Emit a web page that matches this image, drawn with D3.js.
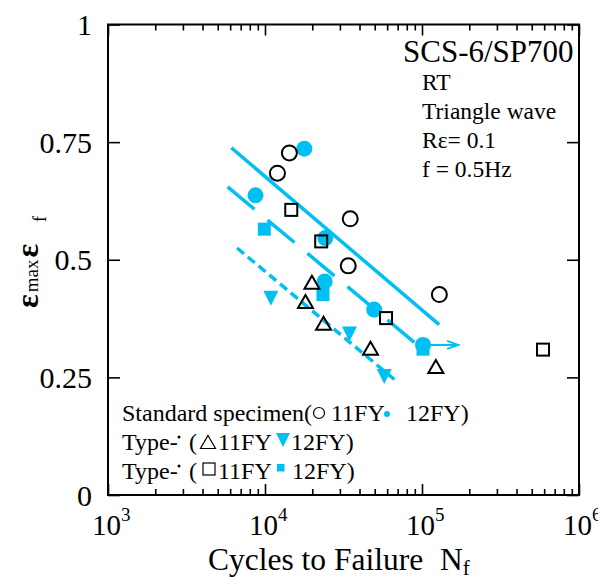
<!DOCTYPE html>
<html>
<head>
<meta charset="utf-8">
<script src="https://cdn.jsdelivr.net/npm/d3@7"></script>
<style>
  body { margin: 0; background: #fff; }
  text { font-family: "Liberation Serif", "Times New Roman", serif; fill: #000; }
</style>
</head>
<body>
<svg id="chart" width="598" height="578"></svg>
<script>
// data: [cycles to failure, strain ratio]
var stdOpen   = [[14300, 0.727], [12000, 0.684], [34900, 0.587], [33900, 0.487], [129000, 0.426]];
var stdFilled = [[17800, 0.736], [8700, 0.637], [24200, 0.546], [24000, 0.454], [49600, 0.394], [101500, 0.319]];
var sqOpen    = [[14700, 0.606], [22800, 0.539], [59000, 0.376], [590000, 0.309]];
var sqFilled  = [[9900, 0.565], [23400, 0.426], [101500, 0.310]];
var triOpen   = [[19900, 0.452], [18100, 0.411], [23600, 0.365], [47000, 0.312], [122500, 0.273]];
var triFilled = [[10900, 0.418], [34500, 0.342], [57500, 0.252]];

// fitted lines
var lineStd = [[6100, 0.738], [128600, 0.362]];
var lineSq  = [[5780, 0.655], [101500, 0.309]];
var lineTri = [[6640, 0.525], [69200, 0.241]];
var runout  = [[101500, 0.319], [170000, 0.319]];

var xDecades = [3, 4, 5, 6];
var yTicks = [0, 0.25, 0.5, 0.75, 1];
var yTickLabels = ['0', '0.25', '0.5', '0.75', '1'];

var cyan = '#00bff3';

var svg = d3.select('#chart');
var pLeft = 108, pRight = 579, pTop = 24.5, pBottom = 495;

var x = d3.scaleLog().domain([1e3, 1e6]).range([pLeft, pRight]);
var y = d3.scaleLinear().domain([0, 1]).range([pBottom, pTop]);

var majorX = xDecades.map(function(d) { return Math.pow(10, d); });
var minorX = x.ticks().filter(function(v) { return majorX.indexOf(v) < 0; });

// ticks, all pointing inward
function tickLayer(axis, tx, ty) {
  var g = svg.append('g').attr('transform', 'translate(' + tx + ',' + ty + ')').call(axis);
  g.select('.domain').remove();
  g.selectAll('.tick line').attr('stroke', '#000').attr('stroke-width', 1.6);
  g.selectAll('.tick text').remove();
  return g;
}
tickLayer(d3.axisBottom(x).tickValues(majorX).tickSize(-11).tickFormat(''), 0, pBottom);
tickLayer(d3.axisBottom(x).tickValues(minorX).tickSize(-6).tickFormat(''), 0, pBottom);
tickLayer(d3.axisTop(x).tickValues(majorX).tickSize(-11).tickFormat(''), 0, pTop);
tickLayer(d3.axisTop(x).tickValues(minorX).tickSize(-6).tickFormat(''), 0, pTop);
tickLayer(d3.axisLeft(y).tickValues(yTicks).tickSize(-12).tickFormat(''), pLeft, 0);
tickLayer(d3.axisRight(y).tickValues(yTicks).tickSize(-12).tickFormat(''), pRight, 0);

svg.append('rect')
  .attr('x', pLeft).attr('y', pTop)
  .attr('width', pRight - pLeft).attr('height', pBottom - pTop)
  .attr('fill', 'none').attr('stroke', '#000').attr('stroke-width', 2);

// tick labels
var xl = svg.append('g').selectAll('text').data(majorX).enter().append('text')
  .attr('x', function(d) { return x(d) - 16; })
  .attr('y', 535)
  .style('font-size', '29px');
xl.append('tspan').text('10');
xl.append('tspan').attr('dy', -14).style('font-size', '19px')
  .text(function(d) { return Math.round(Math.log10(d)); });

svg.append('g').selectAll('text').data(yTicks).enter().append('text')
  .attr('x', 92)
  .attr('y', function(d) { return y(d); })
  .attr('dy', '0.35em')
  .attr('text-anchor', 'end')
  .style('font-size', '30px')
  .text(function(d, i) { return yTickLabels[i]; });

// axis titles
var xt = svg.append('text').attr('x', 208).attr('y', 570).style('font-size', '31.5px');
xt.append('tspan').text('Cycles to Failure');
xt.append('tspan').attr('x', 440).text('N');
xt.append('tspan').attr('dy', 5).style('font-size', '21px').text('f');

var yt = svg.append('text').attr('transform', 'translate(38,308) rotate(-90)');
yt.append('tspan').style('font-size', '32px').style('font-weight', 'bold').text('ε');
yt.append('tspan').style('font-size', '19px').attr('dx', 2).text('max');
yt.append('tspan').style('font-size', '32px').style('font-weight', 'bold').attr('dx', 2).text('ε');
yt.append('tspan').style('font-size', '18px').attr('dx', 22).attr('dy', 8).text('f');

// condition notes
svg.append('text').attr('x', 403).attr('y', 62).style('font-size', '31px').text('SCS-6/SP700');
var notes = ['RT', 'Triangle wave', 'Rε= 0.1', 'f = 0.5Hz'];
svg.append('g').selectAll('text').data(notes).enter().append('text')
  .attr('x', 422)
  .attr('y', function(d, i) { return 90 + i * 28.9; })
  .style('font-size', '23.5px')
  .text(function(d) { return d; });

// fitted lines
var line = d3.line().x(function(d) { return x(d[0]); }).y(function(d) { return y(d[1]); });
svg.append('path').datum(lineStd).attr('d', line)
  .attr('stroke', cyan).attr('stroke-width', 3.5).attr('fill', 'none');
svg.append('path').datum(lineSq).attr('d', line)
  .attr('stroke', cyan).attr('stroke-width', 3.5).attr('fill', 'none')
  .attr('stroke-dasharray', '35,17');
svg.append('path').datum(lineTri).attr('d', line)
  .attr('stroke', cyan).attr('stroke-width', 3.5).attr('fill', 'none')
  .attr('stroke-dasharray', '9,5');

// run-out arrow
svg.append('path').datum(runout).attr('d', line)
  .attr('stroke', cyan).attr('stroke-width', 2).attr('fill', 'none');
var ax = x(runout[1][0]), ay = y(runout[1][1]);
svg.append('path')
  .attr('d', 'M' + (ax - 11) + ',' + (ay - 4) + 'L' + ax + ',' + ay + 'L' + (ax - 11) + ',' + (ay + 4))
  .attr('stroke', cyan).attr('stroke-width', 2).attr('fill', 'none');

// marker shapes
function triUp(cx, cy, w, h) {
  return 'M' + cx + ',' + (cy - h / 2) + 'L' + (cx + w / 2) + ',' + (cy + h / 2) + 'L' + (cx - w / 2) + ',' + (cy + h / 2) + 'Z';
}
function triDown(cx, cy, w, h) {
  return 'M' + (cx - w / 2) + ',' + (cy - h / 2) + 'L' + (cx + w / 2) + ',' + (cy - h / 2) + 'L' + cx + ',' + (cy + h / 2) + 'Z';
}

var marks = svg.append('g');

marks.selectAll('.sqf').data(sqFilled).enter().append('rect')
  .attr('x', function(d) { return x(d[0]) - 6.5; })
  .attr('y', function(d) { return y(d[1]) - 6.5; })
  .attr('width', 13).attr('height', 13).attr('fill', cyan);

marks.selectAll('.trf').data(triFilled).enter().append('path')
  .attr('d', function(d) { return triDown(x(d[0]), y(d[1]), 15, 15); })
  .attr('fill', cyan);

marks.selectAll('.cf').data(stdFilled).enter().append('circle')
  .attr('cx', function(d) { return x(d[0]); })
  .attr('cy', function(d) { return y(d[1]); })
  .attr('r', 8).attr('fill', cyan);

marks.selectAll('.sqo').data(sqOpen).enter().append('rect')
  .attr('x', function(d) { return x(d[0]) - 6; })
  .attr('y', function(d) { return y(d[1]) - 6; })
  .attr('width', 12).attr('height', 12)
  .attr('fill', 'none').attr('stroke', '#000').attr('stroke-width', 2);

marks.selectAll('.tro').data(triOpen).enter().append('path')
  .attr('d', function(d) { return triUp(x(d[0]), y(d[1]), 15, 13); })
  .attr('fill', 'none').attr('stroke', '#000').attr('stroke-width', 2);

marks.selectAll('.co').data(stdOpen).enter().append('circle')
  .attr('cx', function(d) { return x(d[0]); })
  .attr('cy', function(d) { return y(d[1]); })
  .attr('r', 7.5)
  .attr('fill', 'none').attr('stroke', '#000').attr('stroke-width', 2);

// legend
var lg = svg.append('g').style('font-size', '24px');
lg.append('text').attr('x', 122).attr('y', 421).text('Standard specimen(');
lg.append('circle').attr('cx', 319).attr('cy', 413).attr('r', 5.5)
  .attr('fill', 'none').attr('stroke', '#000').attr('stroke-width', 1.2);
lg.append('text').attr('x', 331).attr('y', 421).text('11FY');
lg.append('circle').attr('cx', 387).attr('cy', 414).attr('r', 3).attr('fill', cyan);
lg.append('text').attr('x', 406).attr('y', 421).text('12FY)');

lg.append('text').attr('x', 122).attr('y', 450).text('Type-');
lg.append('circle').attr('cx', 179).attr('cy', 437).attr('r', 1.5).attr('fill', '#000');
lg.append('text').attr('x', 189).attr('y', 450).text('(');
lg.append('path').attr('d', triUp(208, 442, 15, 13))
  .attr('fill', 'none').attr('stroke', '#000').attr('stroke-width', 1.2);
lg.append('text').attr('x', 218).attr('y', 450).text('11FY');
lg.append('path').attr('d', triDown(283, 440, 14, 14)).attr('fill', cyan);
lg.append('text').attr('x', 291).attr('y', 450).text('12FY)');

lg.append('text').attr('x', 122).attr('y', 479).text('Type-');
lg.append('circle').attr('cx', 179).attr('cy', 466).attr('r', 1.5).attr('fill', '#000');
lg.append('text').attr('x', 189).attr('y', 479).text('(');
lg.append('rect').attr('x', 203).attr('y', 463).attr('width', 12).attr('height', 12)
  .attr('fill', 'none').attr('stroke', '#000').attr('stroke-width', 1.2);
lg.append('text').attr('x', 218).attr('y', 479).text('11FY');
lg.append('rect').attr('x', 277).attr('y', 464).attr('width', 7.5).attr('height', 7.5).attr('fill', cyan);
lg.append('text').attr('x', 292).attr('y', 479).text('12FY)');
</script>
</body>
</html>
